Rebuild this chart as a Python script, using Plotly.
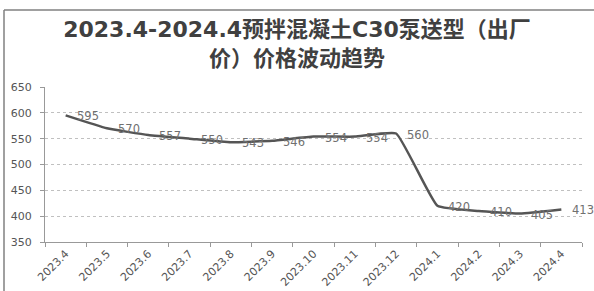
import plotly.graph_objects as go

categories = ["2023.4", "2023.5", "2023.6", "2023.7", "2023.8", "2023.9", "2023.10",
              "2023.11", "2023.12", "2024.1", "2024.2", "2024.3", "2024.4"]
prices = [595, 570, 557, 550, 543, 546, 554, 554, 560, 420, 410, 405, 413]
y_ticks = [350, 400, 450, 500, 550, 600, 650]
title_text = "2023.4-2024.4预拌混凝土C30泵送型（出厂<br>价）价格波动趋势"

FONT = "DejaVu Sans, Noto Sans CJK SC, sans-serif"
W, H = 594, 291
ml, mr, mt, mb = 45, 12, 87, 49

fig = go.Figure()
fig.add_trace(go.Scatter(
    x=categories, y=prices, mode="lines",
    line=dict(color="#555555", width=2.5, shape="spline", smoothing=0.35),
    hoverinfo="skip", showlegend=False, cliponaxis=False,
))

for i, v in enumerate(prices):
    fig.add_annotation(x=i, y=v, text=str(v), showarrow=False,
                       xanchor="left", yanchor="middle", xshift=9, yshift=-1,
                       font=dict(family=FONT, size=11.5, color="#707070"))

pw = W - ml - mr
ph = H - mt - mb
fx0 = (4 - ml) / pw
fy1 = (H - mb - 10) / ph
fig.add_shape(type="line", xref="paper", yref="paper", x0=fx0, x1=fx0, y0=-1.0, y1=fy1,
              line=dict(color="#808080", width=1.5))
fig.add_shape(type="line", xref="paper", yref="paper", x0=fx0, x1=(W - ml) / pw, y0=fy1, y1=fy1,
              line=dict(color="#808080", width=1.5))

fig.update_layout(
    width=W, height=H,
    margin=dict(l=ml, r=mr, t=mt, b=mb, autoexpand=False),
    paper_bgcolor="white", plot_bgcolor="white",
    title=dict(text=title_text, x=0.5, xanchor="center", xref="container",
               y=1 - 37 / H, yanchor="middle",
               font=dict(family=FONT, size=22, color="#404040", weight="bold")),
    xaxis=dict(type="category", range=[-0.5, len(categories) - 0.5], automargin=False,
               tickangle=-45, tickson="boundaries", ticks="outside", ticklen=4,
               tickcolor="#999999", showline=True, linecolor="#999999", linewidth=1,
               showgrid=False, tickfont=dict(family=FONT, size=11, color="#555555")),
    yaxis=dict(range=[350, 650], tickvals=y_ticks, ticks="outside", ticklen=4, automargin=False,
               tickcolor="#999999", showline=True, linecolor="#999999", linewidth=1,
               ticklabelstandoff=6,
               showgrid=True, gridcolor="#c0c0c0", griddash="dot", gridwidth=1,
               zeroline=False, tickfont=dict(family=FONT, size=11, color="#555555")),
)

fig.write_html("out.html", config={"displayModeBar": False},
               post_script="document.body.style.margin='0';document.body.style.overflow='hidden';")
